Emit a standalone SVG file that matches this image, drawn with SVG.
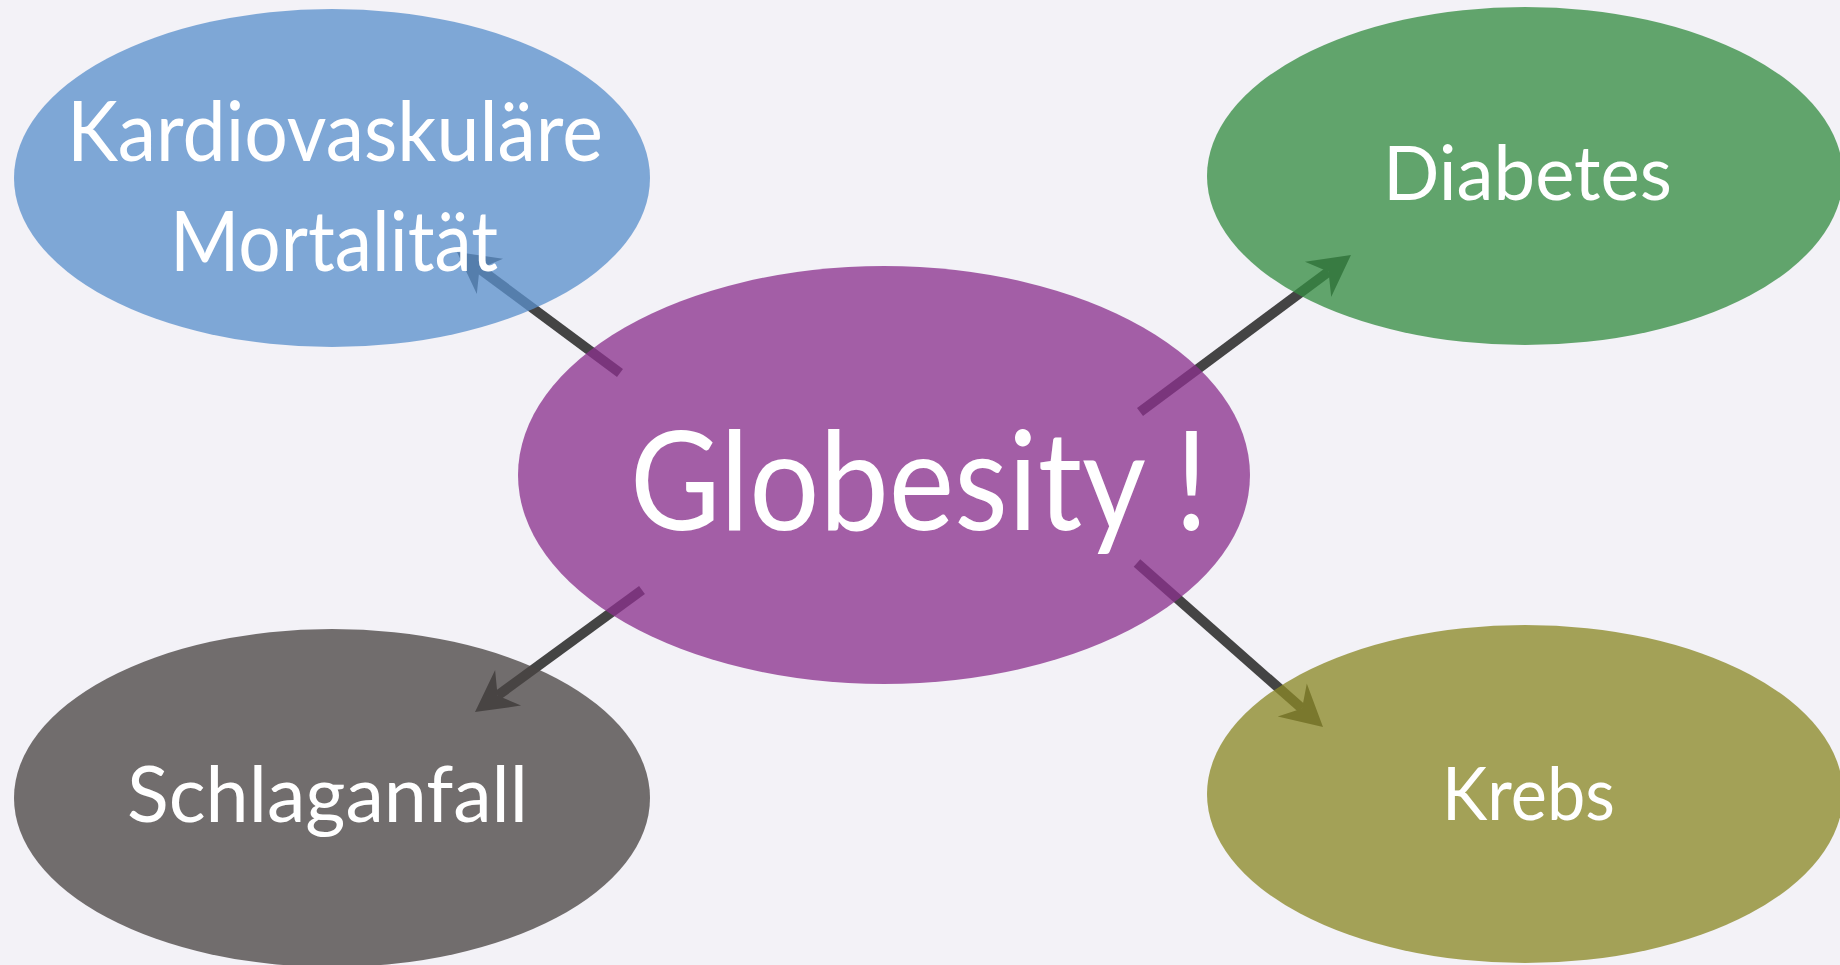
<svg xmlns="http://www.w3.org/2000/svg" width="1840" height="965" viewBox="0 0 1840 965">
<defs>
<marker id="head" markerUnits="userSpaceOnUse" markerWidth="55" markerHeight="60" viewBox="-20 -30 55 60" refX="0" refY="0" orient="auto">
<path d="M28,0 L-13,-22 L0,0 L-13,22 Z" fill="#444444"/>
</marker>
</defs>
<style>
.bg{fill:#f3f2f7}
.conn{stroke:#444444;stroke-width:10;fill:none;marker-end:url(#head)}
.node{fill-opacity:0.77}
.lbl{font-family:Lato,"Open Sans","Noto Sans",sans-serif;font-weight:400;fill:#ffffff}
</style>
<rect class="bg" x="0" y="0" width="1840" height="965"/>
<g id="connectors">
<line class="conn" x1="620" y1="373" x2="479.5" y2="268.7"/>
<line class="conn" x1="1140" y1="412" x2="1328.5" y2="271.7"/>
<line class="conn" x1="642" y1="590" x2="497.6" y2="695.5"/>
<line class="conn" x1="1137" y1="563" x2="1302" y2="708.5"/>
</g>
<g id="node-kardio">
<ellipse class="node" cx="332" cy="178" rx="318" ry="169" fill="#5b91cc"/>
<text class="lbl" x="67" y="161" font-size="84" textLength="536" lengthAdjust="spacingAndGlyphs">Kardiovaskuläre</text>
<text class="lbl" x="170" y="271" font-size="84" textLength="328" lengthAdjust="spacingAndGlyphs">Mortalität</text>
</g>
<g id="node-diabetes">
<ellipse class="node" cx="1525" cy="176" rx="318" ry="169" fill="#358d43"/>
<text class="lbl" x="1383" y="200" font-size="75" textLength="289" lengthAdjust="spacingAndGlyphs">Diabetes</text>
</g>
<g id="node-globesity">
<ellipse class="node" cx="884" cy="475" rx="366" ry="209" fill="#8b328e"/>
<text class="lbl" x="630" y="530" font-size="138" textLength="578" lengthAdjust="spacingAndGlyphs">Globesity !</text>
</g>
<g id="node-schlaganfall">
<ellipse class="node" cx="332" cy="798" rx="318" ry="169" fill="#4a4544"/>
<text class="lbl" x="127" y="822" font-size="78" textLength="401" lengthAdjust="spacingAndGlyphs">Schlaganfall</text>
</g>
<g id="node-krebs">
<ellipse class="node" cx="1525" cy="794" rx="318" ry="169" fill="#8b8927"/>
<text class="lbl" x="1442" y="820" font-size="74" textLength="173" lengthAdjust="spacingAndGlyphs">Krebs</text>
</g>
</svg>
